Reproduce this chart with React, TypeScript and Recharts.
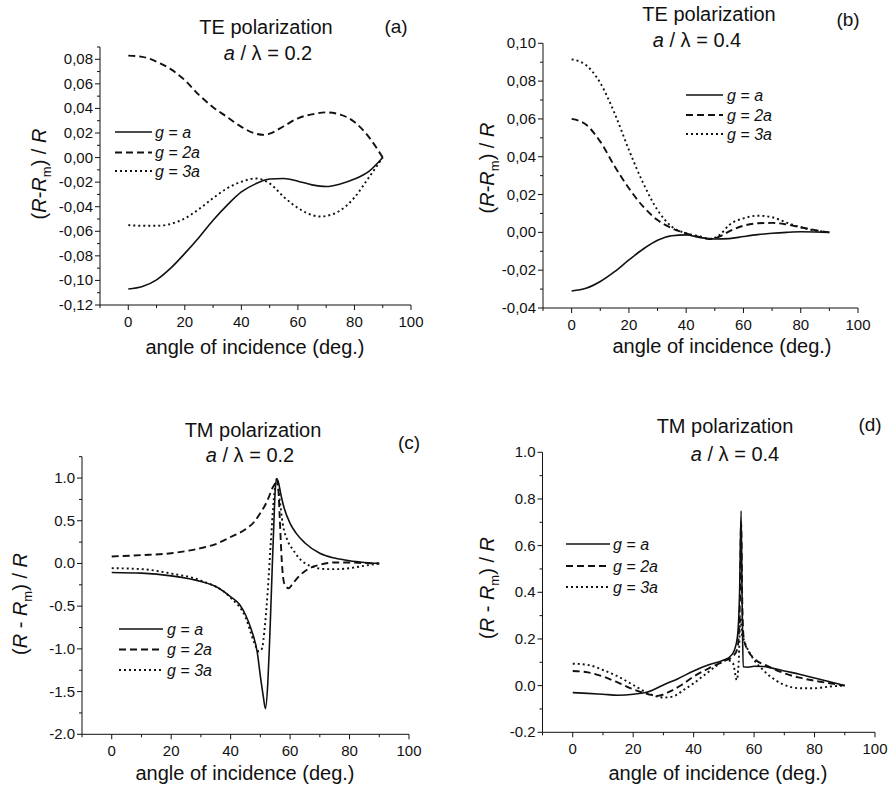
import React from 'react';
import { LineChart, Line, XAxis, YAxis } from 'recharts';

type Pt = [number, number];

const FONT = '"Liberation Sans", Arial, Helvetica, sans-serif';
const INK = '#111';

// (a) TE polarization, a / λ = 0.2
const teA_ga: Pt[] = [[0, -0.107], [5, -0.105], [10, -0.0995], [15, -0.09], [20, -0.078], [25, -0.065], [30, -0.051], [35, -0.0387], [40, -0.028], [45, -0.0214], [50, -0.0175], [55, -0.017], [60, -0.0192], [65, -0.0222], [70, -0.0236], [75, -0.0215], [80, -0.0175], [85, -0.0115], [90, 0]];
const teA_g2a: Pt[] = [[0, 0.083], [5, 0.082], [10, 0.078], [15, 0.072], [20, 0.063], [25, 0.051], [30, 0.041], [35, 0.033], [40, 0.025], [45, 0.0195], [48, 0.0185], [50, 0.0195], [55, 0.0255], [60, 0.032], [65, 0.0352], [70, 0.0368], [75, 0.035], [80, 0.029], [85, 0.017], [90, 0]];
const teA_g3a: Pt[] = [[0, -0.055], [5, -0.0555], [10, -0.0555], [15, -0.054], [20, -0.0495], [25, -0.042], [30, -0.033], [35, -0.025], [40, -0.0197], [45, -0.017], [50, -0.021], [55, -0.032], [60, -0.041], [65, -0.0468], [68, -0.048], [70, -0.0475], [75, -0.043], [80, -0.0325], [85, -0.0165], [90, 0]];

// (b) TE polarization, a / λ = 0.4
const teB_ga: Pt[] = [[0, -0.031], [5, -0.0296], [10, -0.026], [15, -0.0208], [20, -0.0146], [25, -0.0088], [30, -0.0042], [35, -0.0018], [40, -0.0013], [45, -0.0028], [50, -0.0035], [55, -0.0033], [60, -0.0022], [65, -0.0012], [70, -0.0005], [75, 0], [80, 0.0003], [85, 0.0002], [90, 0]];
const teB_g2a: Pt[] = [[0, 0.06], [5, 0.057], [10, 0.048], [15, 0.035], [20, 0.0233], [25, 0.0136], [30, 0.0065], [35, 0.0022], [40, -0.0005], [45, -0.0025], [48, -0.0035], [52, -0.002], [55, 0.0005], [60, 0.0035], [65, 0.0048], [70, 0.005], [75, 0.0042], [80, 0.0027], [85, 0.0012], [90, 0]];
const teB_g3a: Pt[] = [[0, 0.0915], [5, 0.0885], [10, 0.079], [15, 0.063], [20, 0.0436], [25, 0.026], [30, 0.0118], [35, 0.003], [40, -0.0005], [45, -0.0022], [48, -0.0035], [52, -0.001], [55, 0.0039], [60, 0.0074], [65, 0.0088], [70, 0.008], [75, 0.0052], [80, 0.0027], [85, 0.001], [90, 0]];

// (c) TM polarization, a / λ = 0.2
const tmC_ga: Pt[] = [[0, -0.105], [10, -0.113], [20, -0.145], [30, -0.21], [35, -0.27], [40, -0.39], [43, -0.48], [45, -0.6], [47, -0.78], [49, -1.05], [50, -1.32], [51, -1.56], [51.7, -1.7], [52.5, -1.4], [53, -1.01], [53.5, -0.54], [54, -0.04], [54.5, 0.43], [55, 0.86], [55.5, 0.99], [56, 0.96], [57, 0.79], [58, 0.65], [60, 0.47], [62, 0.355], [65, 0.24], [70, 0.12], [75, 0.063], [80, 0.031], [85, 0.012], [90, 0]];
const tmC_g2a: Pt[] = [[0, 0.082], [10, 0.098], [20, 0.12], [30, 0.18], [35, 0.227], [40, 0.31], [45, 0.4], [48, 0.49], [50, 0.59], [52, 0.71], [53, 0.79], [54, 0.88], [55, 0.94], [55.5, 0.99], [56, 0.9], [56.5, 0.55], [57, 0.16], [57.5, -0.11], [58, -0.23], [59.5, -0.29], [61, -0.23], [63, -0.15], [66, -0.066], [70, -0.016], [75, 0.012], [80, 0.012], [85, 0.004], [90, 0]];
const tmC_g3a: Pt[] = [[0, -0.055], [10, -0.066], [20, -0.118], [30, -0.2], [40, -0.4], [45, -0.63], [48, -0.93], [49.5, -1.03], [50.5, -1.0], [51.5, -0.74], [52.5, -0.31], [53.5, 0.24], [54.5, 0.75], [55.5, 0.98], [56.5, 0.75], [57.5, 0.47], [59, 0.28], [61, 0.16], [63, 0.063], [65, 0.004], [68, -0.043], [72, -0.066], [76, -0.066], [80, -0.055], [85, -0.027], [90, 0]];

// (d) TM polarization, a / λ = 0.4
const tmD_ga: Pt[] = [[0, -0.03], [5, -0.033], [10, -0.037], [15, -0.041], [20, -0.037], [25, -0.026], [30, 0.003], [35, 0.031], [40, 0.063], [45, 0.089], [50, 0.11], [52, 0.124], [53.5, 0.153], [54.5, 0.21], [55.2, 0.4], [55.7, 0.749], [56.1, 0.3], [56.4, 0.081], [58, 0.079], [60, 0.083], [63, 0.082], [66, 0.075], [70, 0.063], [75, 0.049], [80, 0.033], [85, 0.017], [90, 0]];
const tmD_g2a: Pt[] = [[0, 0.063], [5, 0.057], [10, 0.039], [15, 0.013], [20, -0.016], [25, -0.037], [28, -0.044], [32, -0.026], [36, 0.003], [40, 0.039], [45, 0.074], [50, 0.105], [53, 0.125], [54.5, 0.16], [55.3, 0.35], [55.7, 0.7], [56.1, 0.35], [56.6, 0.2], [58, 0.15], [60, 0.117], [65, 0.081], [70, 0.053], [75, 0.034], [80, 0.021], [85, 0.01], [90, 0]];
const tmD_g3a: Pt[] = [[0, 0.094], [5, 0.089], [10, 0.067], [15, 0.039], [20, 0.003], [25, -0.033], [30, -0.051], [33, -0.047], [37, -0.016], [40, 0.01], [45, 0.06], [48, 0.089], [51, 0.11], [53, 0.096], [54.3, 0.024], [54.9, 0.1], [55.5, 0.3], [56, 0.22], [56.5, 0.2], [57.5, 0.167], [60, 0.11], [63, 0.067], [67, 0.024], [70, 0.003], [75, -0.011], [80, -0.011], [85, -0.004], [90, 0]];

const xMajor = [0, 20, 40, 60, 80, 100];
const xMinor = [-10, 10, 30, 50, 70, 90];

const teAYMajor = [-0.12, -0.1, -0.08, -0.06, -0.04, -0.02, 0, 0.02, 0.04, 0.06, 0.08];
const teAYMinor = [-0.11, -0.09, -0.07, -0.05, -0.03, -0.01, 0.01, 0.03, 0.05, 0.07, 0.09];
const teBYMajor = [-0.04, -0.02, 0, 0.02, 0.04, 0.06, 0.08, 0.1];
const teBYMinor = [-0.03, -0.01, 0.01, 0.03, 0.05, 0.07, 0.09];
const tmCYMajor = [-2, -1.5, -1, -0.5, 0, 0.5, 1];
const tmCYMinor = [-1.75, -1.25, -0.75, -0.25, 0.25, 0.75, 1.25];
const tmDYMajor = [-0.2, 0, 0.2, 0.4, 0.6, 0.8, 1];
const tmDYMinor = [-0.1, 0.1, 0.3, 0.5, 0.7, 0.9];

const legendNames = ['a', '2a', '3a'];
const DASHES = [undefined, '7 4', '2 3'];
const WIDTHS = [1.6, 1.9, 1.9];

const toPts = (arr: Pt[]) => arr.map(([x, y]) => ({ x, y }));
const isIn = (list: number[], v: number) => list.some((m) => Math.abs(m - v) < 1e-9);

const Y_W = 60;
const X_H = 40;

const panels = [
  {
    id: 'a', box: [0, 0, 440, 390], plot: [100, 47, 411, 305], yDomain: [-0.12, 0.09],
    yMajor: teAYMajor, yMinor: teAYMinor, fmt: (v: number) => v.toFixed(2).replace('.', ','),
    series: [teA_ga, teA_g2a, teA_g3a],
  },
  {
    id: 'b', box: [440, 0, 453, 390], plot: [543, 43.3, 858, 308], yDomain: [-0.04, 0.1],
    yMajor: teBYMajor, yMinor: teBYMinor, fmt: (v: number) => v.toFixed(2).replace('.', ','),
    series: [teB_ga, teB_g2a, teB_g3a],
  },
  {
    id: 'c', box: [0, 390, 440, 399], plot: [82, 456.7, 409, 734.3], yDomain: [-2, 1.25],
    yMajor: tmCYMajor, yMinor: tmCYMinor, fmt: (v: number) => v.toFixed(1),
    series: [tmC_ga, tmC_g2a, tmC_g3a],
  },
  {
    id: 'd', box: [440, 390, 453, 399], plot: [542.5, 452.3, 875, 732.3], yDomain: [-0.2, 1],
    yMajor: tmDYMajor, yMinor: tmDYMinor, fmt: (v: number) => v.toFixed(1),
    series: [tmD_ga, tmD_g2a, tmD_g3a],
  },
];

// text placement per panel (page coordinates)
const labels = {
  a: { t1: [266, 34], t2: [268, 60], tag: [396, 33], xl: [255, 354], yl: [46, 174], lg: [115, 152, 155, [132, 152.5, 171]], sp: false, pol: 'TE', r: '0.2' },
  b: { t1: [709, 20.7], t2: [697, 46.7], tag: [848, 26], xl: [722, 353], yl: [494, 168], lg: [686, 723, 727, [95, 115, 134]], sp: false, pol: 'TE', r: '0.4' },
  c: { t1: [253, 436.7], t2: [250, 461.7], tag: [409, 449], xl: [245, 780], yl: [27, 604], lg: [119, 163, 167, [629, 649.5, 670]], sp: true, pol: 'TM', r: '0.2' },
  d: { t1: [725, 432.7], t2: [735, 461], tag: [870, 431], xl: [718, 780], yl: [494, 588], lg: [566, 610, 613, [544, 566, 587]], sp: true, pol: 'TM', r: '0.4' },
};

const XTick = (props: any) => {
  const { x, y, payload } = props;
  const major = isIn(xMajor, payload.value);
  return (
    <g>
      <line x1={x} y1={y} x2={x} y2={y + (major ? 5 : 3)} stroke={INK} strokeWidth={1} />
      {major && (
        <text x={x} y={y + 22} textAnchor="middle" fontSize={15} fontFamily={FONT} fill={INK}>
          {payload.value}
        </text>
      )}
    </g>
  );
};

const makeYTick = (major: number[], fmt: (v: number) => string) => (props: any) => {
  const { x, y, payload } = props;
  const isMajor = isIn(major, payload.value);
  return (
    <g>
      <line x1={x} y1={y} x2={x - (isMajor ? 5 : 3)} y2={y} stroke={INK} strokeWidth={1} />
      {isMajor && (
        <text x={x - 7} y={y + 5} textAnchor="end" fontSize={15} fontFamily={FONT} fill={INK}>
          {fmt(payload.value)}
        </text>
      )}
    </g>
  );
};

const Panel = ({ p }: { p: (typeof panels)[number] }) => {
  const [L, T, W, H] = p.box;
  const [x0, y0, x1, y1] = p.plot;
  const margin = { left: x0 - L - Y_W, top: y0 - T, right: L + W - x1, bottom: T + H - y1 - X_H };
  return (
    <div style={{ position: 'absolute', left: L, top: T }}>
      <LineChart width={W} height={H} margin={margin}>
        <XAxis
          type="number"
          dataKey="x"
          domain={[-10, 100]}
          ticks={[...xMajor, ...xMinor]}
          interval={0}
          allowDataOverflow
          height={X_H}
          tickLine={false}
          tickSize={0}
          tickMargin={0}
          tick={XTick}
          axisLine={{ stroke: INK, strokeWidth: 1 }}
        />
        <YAxis
          type="number"
          dataKey="y"
          domain={p.yDomain}
          ticks={[...p.yMajor, ...p.yMinor]}
          interval={0}
          allowDataOverflow
          width={Y_W}
          tickLine={false}
          tickSize={0}
          tickMargin={0}
          tick={makeYTick(p.yMajor, p.fmt)}
          axisLine={{ stroke: INK, strokeWidth: 1 }}
        />
        {p.series.map((s, i) => (
          <Line
            key={i}
            data={toPts(s)}
            dataKey="y"
            type="monotone"
            stroke={INK}
            strokeWidth={WIDTHS[i]}
            strokeDasharray={DASHES[i]}
            dot={false}
            activeDot={false}
            isAnimationActive={false}
          />
        ))}
      </LineChart>
    </div>
  );
};

const Texts = ({ id }: { id: keyof typeof labels }) => {
  const c = labels[id];
  const [lx1, lx2, tx, rows] = c.lg as [number, number, number, number[]];
  const sep = c.sp ? ' - ' : '-';
  return (
    <g fontFamily={FONT} fill={INK}>
      <text x={c.t1[0]} y={c.t1[1]} textAnchor="middle" fontSize={20}>{`${c.pol} polarization`}</text>
      <text x={c.t2[0]} y={c.t2[1]} textAnchor="middle" fontSize={20}>
        <tspan fontStyle="italic">a</tspan>
        <tspan>{` / λ = ${c.r}`}</tspan>
      </text>
      <text x={c.tag[0]} y={c.tag[1]} textAnchor="middle" fontSize={19}>{`(${id})`}</text>
      <text x={c.xl[0]} y={c.xl[1]} textAnchor="middle" fontSize={20}>angle of incidence (deg.)</text>
      <text transform={`translate(${c.yl[0]},${c.yl[1]}) rotate(-90)`} textAnchor="middle" fontSize={20}>
        <tspan>(</tspan>
        <tspan fontStyle="italic">R</tspan>
        <tspan>{sep}</tspan>
        <tspan fontStyle="italic">R</tspan>
        <tspan fontSize={13} dy={5}>m</tspan>
        <tspan dy={-5}>{') / '}</tspan>
        <tspan fontStyle="italic">R</tspan>
      </text>
      {legendNames.map((n, i) => (
        <g key={n}>
          <line x1={lx1} y1={rows[i]} x2={lx2} y2={rows[i]} stroke={INK} strokeWidth={WIDTHS[i]} strokeDasharray={DASHES[i]} />
          <text x={tx} y={rows[i] + 5.5} fontSize={16} fontStyle="italic">{`g = ${n}`}</text>
        </g>
      ))}
    </g>
  );
};

export default function App() {
  return (
    <div style={{ position: 'absolute', left: 0, top: 0, width: 893, height: 789, background: '#fff' }}>
      {panels.map((p) => (
        <Panel key={p.id} p={p} />
      ))}
      <svg width={893} height={789} style={{ position: 'absolute', left: 0, top: 0, pointerEvents: 'none' }}>
        {(['a', 'b', 'c', 'd'] as const).map((id) => (
          <Texts key={id} id={id} />
        ))}
      </svg>
    </div>
  );
}
